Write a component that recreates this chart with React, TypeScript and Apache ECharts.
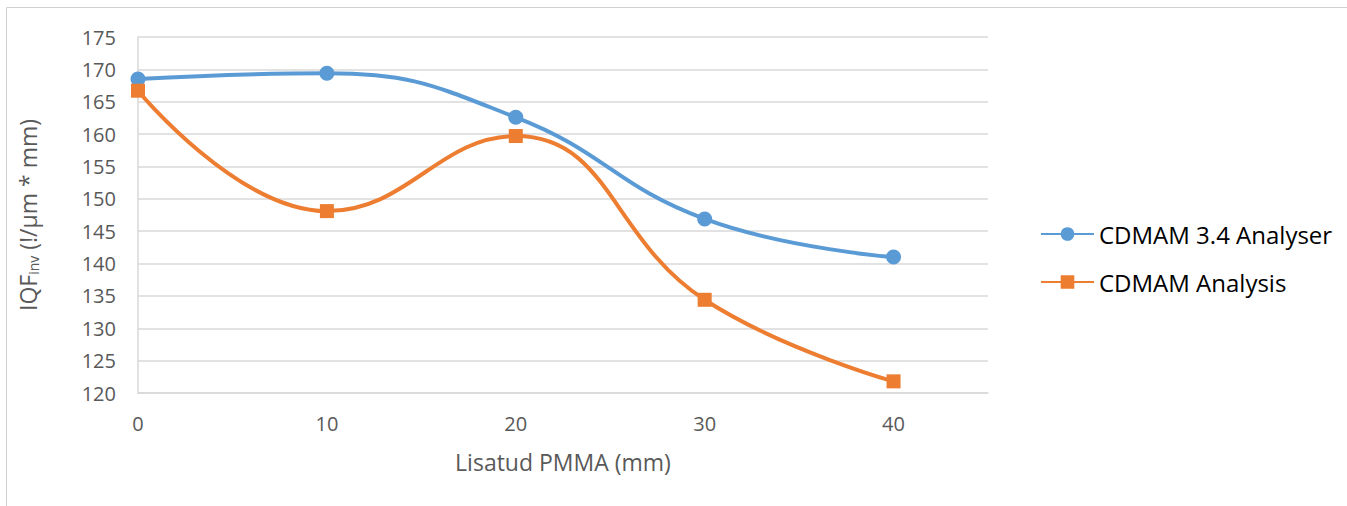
import React, { useEffect, useRef } from "react";
import * as echarts from "echarts";

const xValues = [0, 10, 20, 30, 40];
const analyser = [168.5, 169.4, 162.6, 146.9, 141.0];
const analysis = [166.7, 148.1, 159.7, 134.4, 121.8];
const seriesNames = ["CDMAM 3.4 Analyser", "CDMAM Analysis"];

export default function App() {
  const ref = useRef<HTMLDivElement>(null);
  useEffect(() => {
    if (!ref.current) return;
    const chart = echarts.init(ref.current, null, { renderer: "svg" });
    const font = "'Open Sans', 'Noto Sans', sans-serif";
    chart.setOption({
      animation: false,
      backgroundColor: "#ffffff",
      textStyle: { fontFamily: font },
      graphic: [
        {
          type: "rect",
          shape: { x: 6.5, y: 7.5, width: 1400, height: 600 },
          style: { fill: "none", stroke: "#d0d0d0", lineWidth: 1 },
          silent: true,
        },
      ],
      grid: { left: 138, right: 359, top: 37, bottom: 113, containLabel: false },
      legend: {
        orient: "vertical",
        left: 1040,
        top: 222,
        padding: 0,
        itemGap: 24,
        itemWidth: 53,
        itemHeight: 17,
        data: seriesNames,
        textStyle: { fontFamily: font, fontSize: 24, color: "#000000" },
      },
      xAxis: {
        type: "value",
        min: 0,
        max: 45,
        interval: 10,
        name: "Lisatud PMMA (mm)",
        nameLocation: "middle",
        nameGap: 57,
        nameTextStyle: { fontFamily: font, fontSize: 23, color: "#595959" },
        axisLine: { show: true, lineStyle: { color: "#d9d9d9", width: 1.5 } },
        axisTick: { show: false },
        splitLine: { show: false },
        axisLabel: {
          showMaxLabel: false,
          margin: 20,
          fontSize: 20,
          color: "#595959",
          fontFamily: font,
          formatter: (v: number) => (v % 10 === 0 ? String(v) : ""),
        },
      },
      yAxis: {
        type: "value",
        min: 120,
        max: 175,
        interval: 5,
        name: "IQF{sub|inv} (!/µm * mm)",
        nameLocation: "middle",
        nameRotate: 90,
        nameGap: 98,
        nameTextStyle: {
          fontFamily: font,
          fontSize: 23,
          color: "#595959",
          rich: {
            sub: { fontSize: 14, color: "#595959", fontFamily: font, padding: [10, 0, 0, 0] },
          },
        },
        axisLine: { show: true, lineStyle: { color: "#d9d9d9", width: 1.5 } },
        axisTick: { show: false },
        splitLine: { show: true, lineStyle: { color: "#d9d9d9", width: 1.5 } },
        axisLabel: { margin: 22, fontSize: 20, color: "#595959", fontFamily: font },
      },
      series: [
        {
          name: seriesNames[0],
          type: "line",
          smooth: 0.45,
          data: xValues.map((x, i) => [x, analyser[i]]),
          symbol: "circle",
          symbolSize: 15,
          lineStyle: { color: "#5B9BD5", width: 4 },
          itemStyle: { color: "#5B9BD5" },
        },
        {
          name: seriesNames[1],
          type: "line",
          smooth: 0.45,
          data: xValues.map((x, i) => [x, analysis[i]]),
          symbol: "rect",
          symbolSize: 14,
          lineStyle: { color: "#ED7D31", width: 4 },
          itemStyle: { color: "#ED7D31" },
        },
      ],
    });
    return () => chart.dispose();
  }, []);
  return (
    <div
      ref={ref}
      style={{ position: "fixed", left: 0, top: 0, width: 1347, height: 506 }}
    />
  );
}
